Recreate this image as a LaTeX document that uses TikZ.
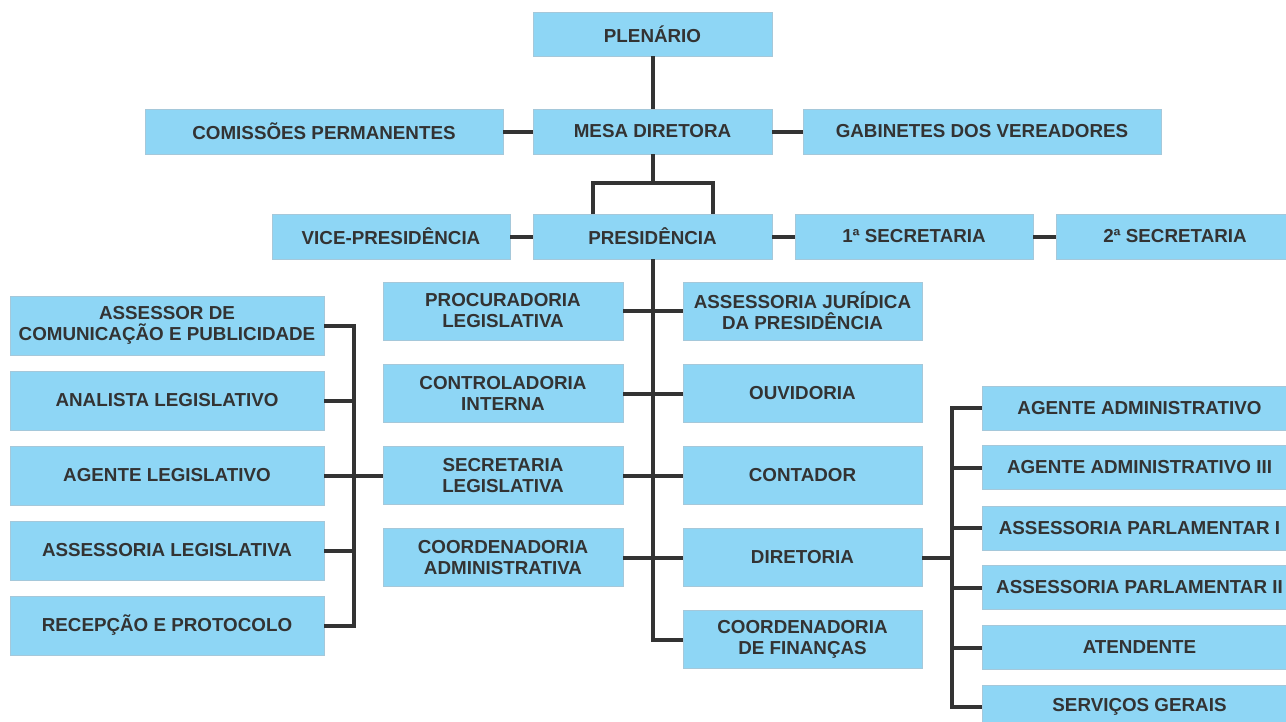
\documentclass[tikz,border=0pt]{standalone}
\usepackage{xcolor}
\usepackage{fontspec}
\setmainfont{Liberation Sans}
\usepackage{tikz}

\definecolor{caixaazul}{RGB}{142,214,245}
\definecolor{bordaazul}{RGB}{165,200,218}
\definecolor{linha}{RGB}{51,51,51}

\begin{document}
\begin{tikzpicture}[x=1pt,y=-1pt,
  caixa/.style={fill=caixaazul,draw=bordaazul,line width=0.8pt,inner sep=0pt,outer sep=0pt,
    align=center,text=linha,font=\fontsize{18.8}{21}\selectfont\bfseries},
  liga/.style={draw=linha,line width=4pt,line join=miter}]
\useasboundingbox (0,0) rectangle (1286,721);
\node[caixa,minimum width=239pt,minimum height=44pt] (plenario) at (652.5,34) {PLENÁRIO};
\node[caixa,minimum width=239pt,minimum height=45pt] (mesa) at (652.5,131.5) {MESA DIRETORA};
\node[caixa,minimum width=358pt,minimum height=45pt] (comissoes) at (324,131.5) {COMISSÕES PERMANENTES};
\node[caixa,minimum width=358pt,minimum height=45pt] (gabinetes) at (982,131.5) {GABINETES DOS VEREADORES};
\node[caixa,minimum width=239pt,minimum height=45pt] (presid) at (652.5,236.5) {PRESIDÊNCIA};
\node[caixa,minimum width=238pt,minimum height=45pt] (vice) at (391,236.5) {VICE-PRESIDÊNCIA};
\node[caixa,minimum width=238pt,minimum height=45pt] (sec1) at (914,236.5) {1ª SECRETARIA};
\node[caixa,minimum width=238pt,minimum height=45pt] (sec2) at (1175,236.5) {2ª SECRETARIA};
\node[caixa,minimum width=240pt,minimum height=58pt] (procur) at (503,311) {PROCURADORIA\\LEGISLATIVA};
\node[caixa,minimum width=240pt,minimum height=58pt] (control) at (503,393.5) {CONTROLADORIA\\INTERNA};
\node[caixa,minimum width=240pt,minimum height=58pt] (secleg) at (503,475.5) {SECRETARIA\\LEGISLATIVA};
\node[caixa,minimum width=240pt,minimum height=58pt] (coordadm) at (503,557.5) {COORDENADORIA\\ADMINISTRATIVA};
\node[caixa,minimum width=239pt,minimum height=58pt] (assjur) at (802.5,311) {ASSESSORIA JURÍDICA\\DA PRESIDÊNCIA};
\node[caixa,minimum width=239pt,minimum height=58pt] (ouvid) at (802.5,393.5) {OUVIDORIA};
\node[caixa,minimum width=239pt,minimum height=58pt] (contador) at (802.5,475.5) {CONTADOR};
\node[caixa,minimum width=239pt,minimum height=58pt] (diretoria) at (802.5,557.5) {DIRETORIA};
\node[caixa,minimum width=239pt,minimum height=58pt] (financas) at (802.5,639.5) {COORDENADORIA\\DE FINANÇAS};
\node[caixa,minimum width=314pt,minimum height=59pt] (assessor) at (167,325.5) {ASSESSOR DE\\COMUNICAÇÃO E PUBLICIDADE};
\node[caixa,minimum width=314pt,minimum height=59pt] (analista) at (167,400.5) {ANALISTA LEGISLATIVO};
\node[caixa,minimum width=314pt,minimum height=59pt] (agenteleg) at (167,475.5) {AGENTE LEGISLATIVO};
\node[caixa,minimum width=314pt,minimum height=59pt] (assleg) at (167,550.5) {ASSESSORIA LEGISLATIVA};
\node[caixa,minimum width=314pt,minimum height=59pt] (recepcao) at (167,625.5) {RECEPÇÃO E PROTOCOLO};
\node[caixa,minimum width=315pt,minimum height=44pt] (agadm) at (1139.5,408) {AGENTE ADMINISTRATIVO};
\node[caixa,minimum width=315pt,minimum height=44pt] (agadm3) at (1139.5,467.5) {AGENTE ADMINISTRATIVO III};
\node[caixa,minimum width=315pt,minimum height=44pt] (asspar1) at (1139.5,528) {ASSESSORIA PARLAMENTAR I};
\node[caixa,minimum width=315pt,minimum height=44pt] (asspar2) at (1139.5,587.5) {ASSESSORIA PARLAMENTAR II};
\node[caixa,minimum width=315pt,minimum height=44pt] (atendente) at (1139.5,647.5) {ATENDENTE};
\node[caixa,minimum width=315pt,minimum height=44pt] (servicos) at (1139.5,707) {SERVIÇOS GERAIS};
\coordinate (jm) at (652.5,183);
\coordinate (bl) at (354,0);
\coordinate (br) at (952,0);
\draw[liga] (plenario) -- (mesa);
\draw[liga] (comissoes) -- (mesa);
\draw[liga] (mesa) -- (gabinetes);
\draw[liga] (mesa) -- (jm);
\draw[liga] ([xshift=-60pt]presid.north) |- (jm) -| ([xshift=60pt]presid.north);
\draw[liga] (vice) -- (presid);
\draw[liga] (presid) -- (sec1);
\draw[liga] (sec1) -- (sec2);
\draw[liga] (presid.south) |- (financas.west);
\draw[liga] (procur) -- (assjur);
\draw[liga] (control) -- (ouvid);
\draw[liga] (secleg) -- (contador);
\draw[liga] (coordadm) -- (diretoria);
\draw[liga] (assessor.east) -| (recepcao.east -| bl) -- (recepcao.east);
\foreach \n in {analista,agenteleg,assleg}
  \draw[liga] (\n.east) -- (\n.east -| bl);
\draw[liga] (agenteleg.east -| bl) -- (secleg.west);
\draw[liga] (agadm.west) -| (servicos.west -| br) -- (servicos.west);
\foreach \n in {agadm3,asspar1,asspar2,atendente}
  \draw[liga] (\n.west) -- (\n.west -| br);
\draw[liga] (diretoria.east) -- (diretoria.east -| br);
\end{tikzpicture}
\end{document}
